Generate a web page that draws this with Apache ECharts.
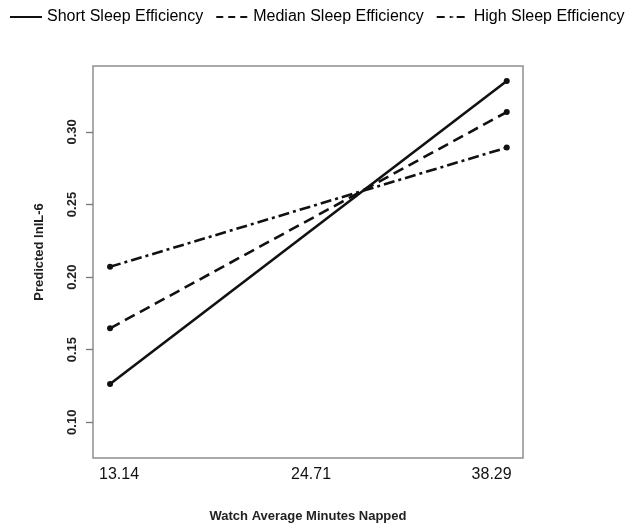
<!DOCTYPE html>
<html>
<head>
<meta charset="utf-8">
<script src="https://cdn.jsdelivr.net/npm/echarts@6/dist/echarts.min.js"></script>
<style>html,body{margin:0;padding:0;background:#fff;}#chart{width:632px;height:532px;}</style>
</head>
<body>
<div id="chart"></div>
<script>
// Data
var xValues = [13.14, 38.29];               // watch average minutes napped (low, high)
var shortSleep = [0.1264, 0.3351];
var medianSleep = [0.1647, 0.3137];
var highSleep = [0.2071, 0.2892];
var seriesNames = ['Short Sleep Efficiency', 'Median Sleep Efficiency', 'High Sleep Efficiency'];
var xTickLabels = ['13.14', '24.71', '38.29'];
var yTicks = [0.10, 0.15, 0.20, 0.25, 0.30];

// label placement along the bottom axis (fraction of plot width)
var xLabelSlots = [0.0605, 0.507, 0.927];

function pairs(vals) { return xValues.map(function (x, i) { return [x, vals[i]]; }); }

var FONT = "'Liberation Sans', Arial, sans-serif";
var chart = echarts.init(document.getElementById('chart'), null, { renderer: 'canvas' });
var dashes = ['solid', [11, 6], [11, 4, 3, 4]];
var legendDashes = ['solid', [7, 5], [8, 5, 2, 5]];
var allVals = [shortSleep, medianSleep, highSleep];

chart.setOption({
  animation: false,
  backgroundColor: '#fff',
  textStyle: { fontFamily: FONT },
  legend: {
    left: 9, top: 9, width: 623, padding: 0,
    itemWidth: 32, itemHeight: 2, itemGap: 12,
    textStyle: { fontSize: 16, color: '#000', fontFamily: FONT },
    data: seriesNames.map(function (n, i) {
      return { name: n, lineStyle: { width: 2, type: legendDashes[i] } };
    })
  },
  grid: {
    left: 93, right: 109, top: 66, bottom: 74,
    show: true, borderColor: '#8f8f8f', borderWidth: 1.5, backgroundColor: 'transparent'
  },
  xAxis: [{
    type: 'value', min: 12.06, max: 39.32,
    axisLine: { show: false }, axisTick: { show: false }, axisLabel: { show: false },
    splitLine: { show: false },
    name: 'Watch Average Minutes Napped', nameLocation: 'middle', nameGap: 52,
    nameTextStyle: { fontSize: 13, fontWeight: 'bold', color: '#222', fontFamily: FONT }
  }, {
    type: 'value', min: 0, max: 1, position: 'bottom',
    axisLine: { show: false }, axisTick: { show: false }, splitLine: { show: false },
    axisLabel: {
      customValues: xLabelSlots, margin: 9, fontSize: 16, color: '#111', fontFamily: FONT,
      formatter: function (v) { var i = xLabelSlots.indexOf(v); return i >= 0 ? xTickLabels[i] : ''; }
    }
  }],
  yAxis: {
    type: 'value', min: 0.0754, max: 0.3454,
    axisLine: { show: false },
    axisTick: { show: true, customValues: yTicks, length: 7, lineStyle: { color: '#777', width: 1.3 } },
    axisLabel: {
      customValues: yTicks, rotate: 90, margin: 14, fontSize: 13, fontWeight: 'bold', color: '#222', fontFamily: FONT,
      formatter: function (v) { return v.toFixed(2); }
    },
    splitLine: { show: false },
    name: 'Predicted lnIL-6', nameLocation: 'middle', nameGap: 47,
    nameTextStyle: { fontSize: 13, fontWeight: 'bold', color: '#222', fontFamily: FONT, padding: [0, 0, 0, 20] }
  },
  series: seriesNames.map(function (n, i) {
    return {
      name: n, type: 'line', xAxisIndex: 0,
      data: pairs(allVals[i]),
      symbol: 'circle', symbolSize: 6,
      itemStyle: { color: '#111' },
      lineStyle: { color: '#111', width: 2.6, type: dashes[i] }
    };
  })
});
</script>
</body>
</html>
